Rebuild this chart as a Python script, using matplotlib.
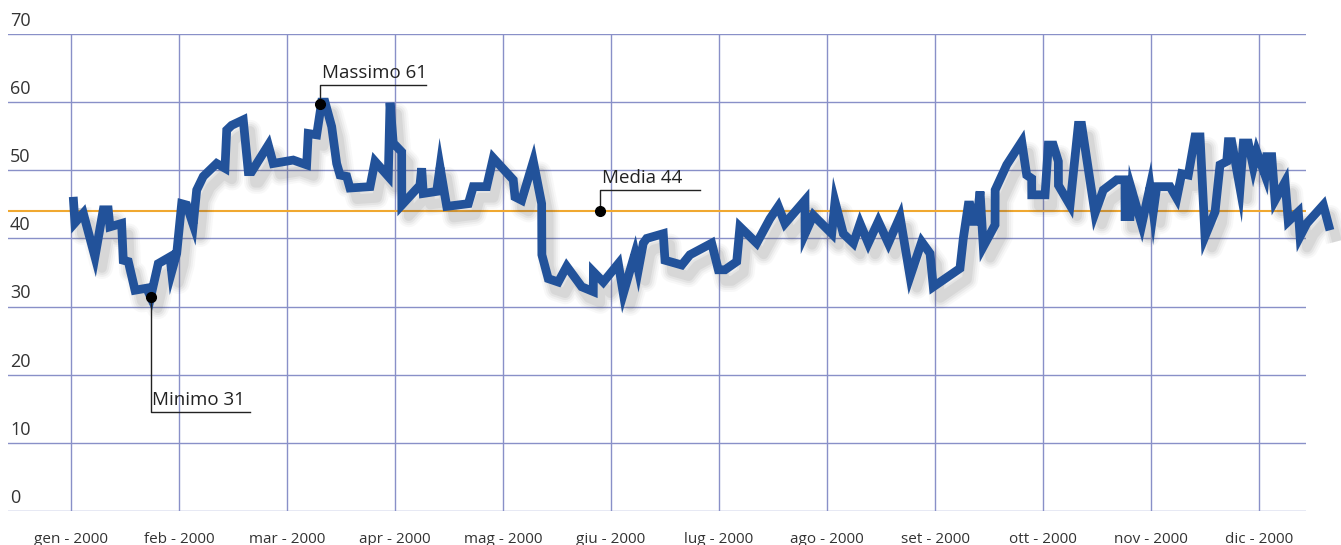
import numpy as np
import matplotlib.pyplot as plt
import matplotlib.patheffects as pe

plt.rcParams['font.family'] = ['Open Sans', 'DejaVu Sans']

mesi = ['gen - 2000', 'feb - 2000', 'mar - 2000', 'apr - 2000', 'mag - 2000', 'giu - 2000',
        'lug - 2000', 'ago - 2000', 'set - 2000', 'ott - 2000', 'nov - 2000', 'dic - 2000']

# posizione in mesi dall'inizio dell'anno
t = [0.021, 0.037, 0.114, 0.222, 0.299, 0.345, 0.361, 0.469, 0.484, 0.531,
     0.593, 0.701, 0.738, 0.808, 0.917, 0.932, 0.979, 1.025, 1.071, 1.132,
     1.164, 1.225, 1.349, 1.426, 1.442, 1.488, 1.595, 1.642, 1.673, 1.827,
     1.873, 2.058, 2.182, 2.197, 2.275, 2.321, 2.352, 2.414, 2.460, 2.491, 2.553,
     2.583, 2.769, 2.815, 2.938, 2.954, 2.984, 3.062, 3.063, 3.231, 3.247,
     3.262, 3.386, 3.417, 3.479, 3.679, 3.725, 3.849, 3.910, 4.095, 4.111,
     4.173, 4.281, 4.358, 4.360, 4.419, 4.512, 4.590, 4.729, 4.836, 4.837,
     4.929, 5.068, 5.114, 5.222, 5.253, 5.299, 5.331, 5.484, 5.500, 5.655,
     5.731, 5.932, 5.994, 6.056, 6.164, 6.194, 6.349, 6.472, 6.549, 6.611,
     6.796, 6.797, 6.873, 7.044, 7.074, 7.151, 7.244, 7.306, 7.382, 7.475,
     7.568, 7.676, 7.769, 7.877, 7.954, 7.984, 8.231, 8.262, 8.308, 8.324,
     8.355, 8.386, 8.417, 8.447, 8.556, 8.557, 8.664, 8.803, 8.849, 8.895,
     8.896, 9.019, 9.049, 9.095, 9.142, 9.143, 9.250, 9.327, 9.358, 9.481,
     9.558, 9.682, 9.759, 9.760, 9.806, 9.821, 9.914, 9.991, 10.021, 10.053,
     10.176, 10.238, 10.284, 10.345, 10.407, 10.454, 10.500, 10.593, 10.639, 10.701,
     10.716, 10.747, 10.824, 10.855, 10.901, 10.947, 10.979, 11.056, 11.071, 11.118,
     11.148, 11.241, 11.271, 11.364, 11.380, 11.442, 11.595, 11.657]

valori = [46.1, 42.3, 43.7, 37.3, 44.2, 44.2, 41.7, 42.2, 36.8, 36.6,
          32.4, 32.7, 31.4, 36.3, 37.3, 35.1, 37.8, 45.1, 44.9, 42.0,
          47.1, 49.1, 51.0, 50.3, 55.9, 56.6, 57.4, 49.8, 49.8, 53.7,
          51.0, 51.5, 50.8, 55.4, 55.2, 60.0, 60.0, 56.4, 51.0, 49.3, 49.1,
          47.4, 47.6, 51.3, 49.1, 59.9, 54.0, 52.7, 44.9, 47.8, 50.3,
          46.6, 46.9, 50.5, 44.7, 45.1, 47.6, 47.6, 51.8, 48.6, 46.1,
          45.6, 51.3, 45.1, 37.6, 34.1, 33.6, 35.9, 32.9, 32.2, 35.1,
          33.6, 36.3, 31.9, 37.8, 35.4, 39.3, 40.0, 40.7, 36.8, 36.1,
          37.6, 39.3, 35.4, 35.4, 36.6, 41.7, 39.3, 42.9, 44.7, 42.2,
          45.6, 40.7, 43.4, 40.7, 45.4, 40.7, 39.3, 42.2, 39.3, 42.5,
          39.3, 43.2, 34.4, 39.5, 37.8, 32.9, 35.6, 40.0, 44.9, 44.9,
          42.5, 42.5, 46.9, 38.8, 42.0, 47.1, 50.8, 54.2, 49.3, 48.8,
          46.4, 46.4, 53.7, 53.7, 51.3, 47.8, 44.9, 56.6, 56.6, 43.7,
          47.1, 48.6, 48.6, 43.2, 43.2, 47.1, 42.0, 47.6, 43.9, 47.6,
          47.6, 45.9, 49.5, 49.3, 54.9, 54.9, 40.3, 43.9, 50.8, 51.3,
          54.2, 54.2, 47.4, 54.0, 54.0, 50.5, 52.7, 49.3, 52.0, 52.0,
          45.6, 48.3, 42.5, 43.9, 40.3, 42.2, 44.9, 41.2]

media = 44
minimo = 31
massimo = 61

t = np.array(t)
valori = np.array(valori)

fig = plt.figure(figsize=(13.41, 5.45), dpi=100)
ax = fig.add_axes([8/1341, 34/545, 1298/1341, 477/545])

griglia = '#8990c8'
for y in range(0, 71, 10):
    ax.axhline(y, color=griglia, lw=1, zorder=1)
    ax.text(0.0015, y + 0.6, str(y), transform=ax.get_yaxis_transform(),
            ha='left', va='bottom', fontsize=13, color='#333333')
for i in range(len(mesi)):
    ax.axvline(i, color=griglia, lw=1, zorder=1)

ax.axhline(media, color='#f0a830', lw=1.5, zorder=2)

# ombra sfumata sotto la linea
ombra = []
for lw, a in [(16, 0.04), (13, 0.05), (10, 0.07), (7, 0.09)]:
    ombra.append(pe.SimpleLineShadow(offset=(5, -8), shadow_color='#555555', alpha=a,
                                     linewidth=lw, joinstyle='round'))
ombra.append(pe.Normal())
ax.plot(t, valori, color='#22529a', lw=6.3, solid_joinstyle='miter', solid_capstyle='butt',
        clip_on=False, zorder=4, path_effects=ombra)

# annotazioni
i_min = np.argmin(valori)
i_max = np.argmax(valori)
ann = [(t[i_min], valori[i_min], 14.5, 1.66, 'Minimo %d' % minimo),
       (t[i_max] - 0.015, valori[i_max] - 0.3, 62.5, 3.29, 'Massimo %d' % massimo),
       (4.898, media, 47.1, 5.82, 'Media %d' % media)]
for x0, y0, yl, x1, testo in ann:
    ax.plot([x0, x0, x1], [y0, yl, yl], color='#222222', lw=1, zorder=5)
    ax.plot(x0, y0, 'o', color='black', ms=7, zorder=6)
    ax.text(x0 + 0.015, yl + 0.5, testo, ha='left', va='bottom', fontsize=13.5, color='#222222', zorder=6)

ax.set_xlim(-0.583, 11.435)
ax.set_ylim(0, 70)
ax.set_xticks(range(len(mesi)))
ax.set_xticklabels(mesi, fontsize=11, color='#333333')
ax.set_yticks([])
ax.tick_params(axis='x', length=0, pad=15)
for s in ax.spines.values():
    s.set_visible(False)

plt.savefig('out.png', dpi=100)
